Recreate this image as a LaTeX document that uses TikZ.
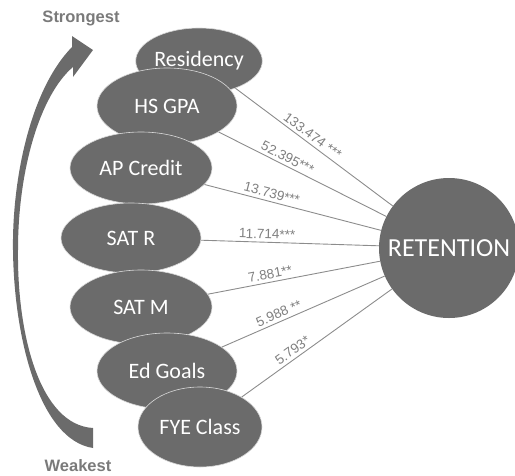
\documentclass[tikz,border=0pt]{standalone}
\usepackage{fontspec}
\usepackage{tikz}
\usetikzlibrary{shapes.geometric}
\newfontfamily\calib{Carlito}
\newfontfamily\arial{Liberation Sans}
\definecolor{blobgray}{HTML}{6B6B6B}
\definecolor{linkgray}{HTML}{8C8C8C}
\definecolor{textgray}{HTML}{7F7F7F}
\tikzset{factor/.style={
  ellipse,
  draw=white!85!black, line width=0.6pt,
  fill=blobgray,
  text=white,
  inner sep=0pt,
  minimum width=140pt, minimum height=74pt,
  font=\calib\fontsize{22}{24}\selectfont
}}
\tikzset{outcome/.style={
  circle,
  fill=blobgray,
  text=white,
  inner sep=0pt,
  minimum size=140pt,
  font=\calib\fontsize{26}{28}\selectfont
}}
\tikzset{link/.style={draw=linkgray, line width=0.9pt}}
\tikzset{weight/.style={sloped, above=2pt, pos=.37, inner sep=1pt, text=textgray,
  font=\arial\fontsize{13.5}{14}\selectfont}}
\tikzset{endlabel/.style={text=blobgray!90!white, font=\arial\bfseries\fontsize{16.5}{18}\selectfont}}

\begin{document}
\begin{tikzpicture}[x=1pt,y=-1pt]
    \useasboundingbox (0,0) rectangle (515,475);
    % strength arrow
    \fill [blobgray] (72,47) .. controls (30,90) and (12,180) .. (13,250)
      .. controls (14,340) and (40,440) .. (93,448) -- (93,428)
      .. controls (40,425) and (17,335) .. (18,250)
      .. controls (18,170) and (40,95) .. (73,67) -- (73,77) -- (93,50) -- (72,36) -- cycle;
    \node (strong) [endlabel] at (81,18) {Strongest};
    \node (weak) [endlabel] at (78,466) {Weakest};
    % predictors
    \node (res) [factor,minimum width=124pt,minimum height=66pt] at (199,61) {Residency};
    \node (hsgpa) [factor,minimum height=76pt] at (167,106) {HS GPA};
    \node (apcr) [factor,minimum width=142pt,minimum height=72pt] at (141,168) {AP Credit};
    \node (satr) [factor,minimum height=70pt] at (131,238) {SAT R};
    \node (satm) [factor,minimum width=142pt] at (141,307) {SAT M};
    \node (edg) [factor,minimum height=76pt] at (167,371) {Ed Goals};
    \node (fye) [factor,minimum width=124pt,minimum height=80pt] at (200,427) {FYE Class};
    \node (ret) [outcome] at (449,248) {RETENTION};
    \draw [link] (res) -- node [weight,pos=.46] {133.474 ***} (ret);
    \draw [link] (hsgpa) -- node [weight,pos=.39] {52.395***} (ret);
    \draw [link] (apcr) -- node [weight] {13.739***} (ret);
    \draw [link] (satr) -- node [weight] {11.714***} (ret);
    \draw [link] (satm) -- node [weight] {7.881**} (ret);
    \draw [link] (edg) -- node [weight] {5.988 **} (ret);
    \draw [link] (fye) -- node [weight] {5.793*} (ret);
  \end{tikzpicture}
\end{document}
